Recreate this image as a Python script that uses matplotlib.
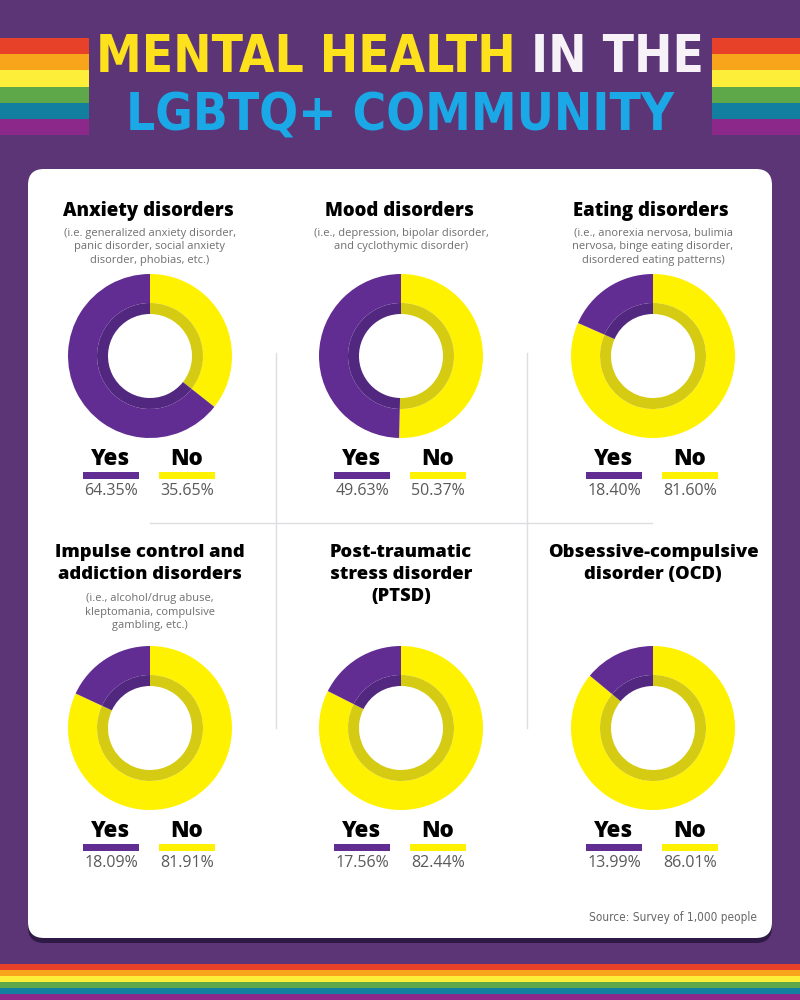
import matplotlib
matplotlib.use('Agg')
import matplotlib.pyplot as plt
from matplotlib.patches import FancyBboxPatch, Rectangle

# data
titles = ['Anxiety disorders', 'Mood disorders', 'Eating disorders',
          'Impulse control and\naddiction disorders',
          'Post-traumatic\nstress disorder\n(PTSD)',
          'Obsessive-compulsive\ndisorder (OCD)']
subtitles = ['(i.e. generalized anxiety disorder,\npanic disorder, social anxiety\ndisorder, phobias, etc.)',
             '(i.e., depression, bipolar disorder,\nand cyclothymic disorder)',
             '(i.e., anorexia nervosa, bulimia\nnervosa, binge eating disorder,\ndisordered eating patterns)',
             '(i.e., alcohol/drug abuse,\nkleptomania, compulsive\ngambling, etc.)',
             '',
             '']
yes_pct = [64.35, 49.63, 18.40, 18.09, 17.56, 13.99]
no_pct = [35.65, 50.37, 81.60, 81.91, 82.44, 86.01]
labels = ['Yes', 'No']

BG = '#5c3577'
PURPLE = '#612d92'
PURPLE_DK = '#522780'
YELLOW = '#fff200'
YELLOW_DK = '#d5cb12'
RAINBOW = ['#e8412a', '#f9a51c', '#fdee3a', '#5fa84a', '#137fa0', '#8c2889']

W, H = 800, 1000
fig = plt.figure(figsize=(8, 10), dpi=100)
fig.patch.set_facecolor(BG)
bg = fig.add_axes([0, 0, 1, 1])
bg.set_xlim(0, W)
bg.set_ylim(H, 0)
bg.axis('off')
r = fig.canvas.get_renderer()

# rainbow stripes
for i, c in enumerate(RAINBOW):
    bg.add_patch(Rectangle((0, 38 + i * 16.2), 89, 16.2, color=c, lw=0))
    bg.add_patch(Rectangle((712, 38 + i * 16.2), 88, 16.2, color=c, lw=0))
    bg.add_patch(Rectangle((0, 964 + i * 6), W, 6, color=c, lw=0))

# header, sized to fit the reference widths
hfont = dict(family='DejaVu Sans', fontstretch='condensed', fontweight='bold', fontsize=40)
t1 = bg.text(0, 58, 'MENTAL HEALTH ', color='#fde11c', va='center', ha='left', **hfont)
t2 = bg.text(0, 58, 'IN THE', color='#f6f2f8', va='center', ha='left', **hfont)
t3 = bg.text(400, 117, 'LGBTQ+ COMMUNITY', color='#1ba8e6', va='center', ha='center', **hfont)
w = t1.get_window_extent(r).width + t2.get_window_extent(r).width
fs = 40 * 608 / w
for t in (t1, t2, t3):
    t.set_fontsize(fs)
w1 = t1.get_window_extent(r).width
w2 = t2.get_window_extent(r).width
x0 = 400 - (w1 + w2) / 2
t1.set_x(x0)
t2.set_x(x0 + w1)

# card with shadow
bg.add_patch(FancyBboxPatch((28, 176), 744, 767, boxstyle='round,pad=0,rounding_size=16',
                            fc='#2f1a45', ec='none'))
bg.add_patch(FancyBboxPatch((28, 169), 744, 769, boxstyle='round,pad=0,rounding_size=16',
                            fc='white', ec='none'))

# grid lines
bg.plot([275.5, 275.5], [353, 728], color='#dddde2', lw=1)
bg.plot([526.5, 526.5], [353, 728], color='#dddde2', lw=1)
bg.plot([150, 652], [523, 523], color='#dddde2', lw=1)

centers_x = [150, 401, 653]
centers_y = [356, 728]
R = 82
tfont = dict(family=['Open Sans', 'DejaVu Sans'], fontweight='heavy', color='black')
sfont = dict(family=['Open Sans', 'DejaVu Sans'], color='#6f6f6f', fontsize=8, linespacing=1.35)

for k in range(6):
    cx = centers_x[k % 3]
    cy = centers_y[k // 3]

    # donut
    ax = fig.add_axes([(cx - R) / W, 1 - (cy + R) / H, 2 * R / W, 2 * R / H])
    vals = [no_pct[k], yes_pct[k]]
    ax.pie(vals, colors=[YELLOW, PURPLE], startangle=90, counterclock=False, radius=1,
           wedgeprops=dict(width=29 / R, linewidth=0))
    ax.pie(vals, colors=[YELLOW_DK, PURPLE_DK], startangle=90, counterclock=False, radius=53 / R,
           wedgeprops=dict(width=11 / R, linewidth=0))
    ax.set_xlim(-1, 1)
    ax.set_ylim(-1, 1)
    ax.axis('off')

    # titles
    if k < 3:
        bg.text(cx - 2, 211, titles[k], ha='center', va='center', fontsize=13.4, **tfont)
        nl = subtitles[k].count('\n')
        bg.text(cx, 247 - (7 if nl == 1 else 0), subtitles[k], ha='center', va='center', **sfont)
    else:
        bg.text(cx, 544, titles[k], ha='center', va='top', fontsize=13.2, linespacing=1.38, **tfont)
        if subtitles[k]:
            bg.text(cx, 612, subtitles[k], ha='center', va='center', **sfont)

    # legend
    for j, (lab, col, pct) in enumerate(zip(labels, [PURPLE, YELLOW], [yes_pct[k], no_pct[k]])):
        lx = cx - 67 + j * 76
        bg.add_patch(Rectangle((lx, cy + 116), 56, 7, color=col, lw=0))
        bg.text(lx + 28, cy + 103, lab, ha='center', va='center', fontsize=16, **tfont)
        bg.text(lx + 28, cy + 135, f'{pct:.2f}%', ha='center', va='center', fontsize=11.5,
                color='#5a5a5a', family=['Open Sans', 'DejaVu Sans'])

bg.text(757, 918, 'Source: Survey of 1,000 people', ha='right', va='center', fontsize=8.5,
        color='#666666', family='DejaVu Sans', fontstretch='condensed')

fig.savefig('out.png', dpi=100, facecolor=BG)
